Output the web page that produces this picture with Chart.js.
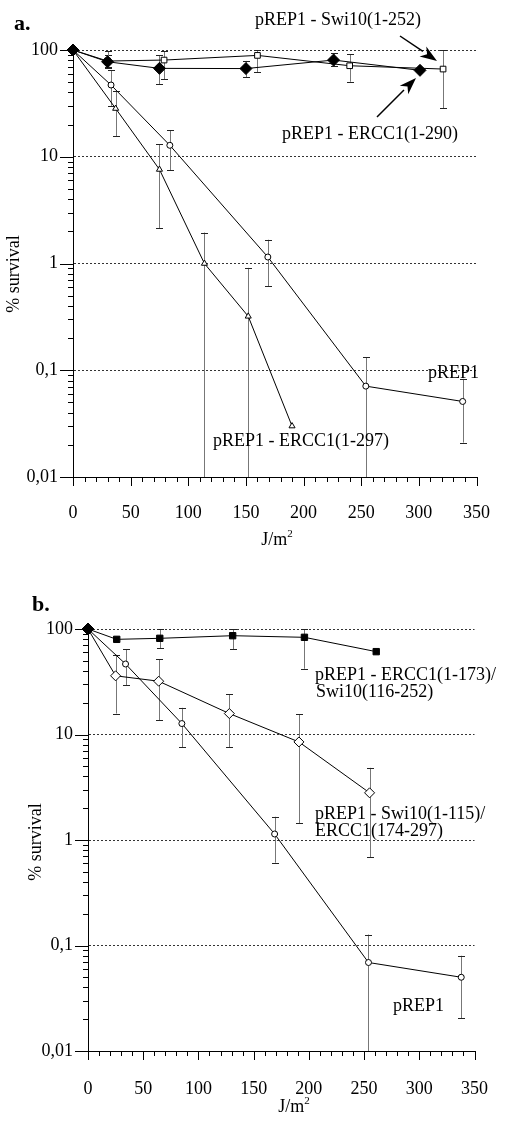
<!DOCTYPE html>
<html>
<head>
<meta charset="utf-8">
<script src="https://cdn.jsdelivr.net/npm/chart.js@4.4.1/dist/chart.umd.min.js"></script>
<style>
  body { margin: 0; background: #fff; }
  #wrapA { position: absolute; left: 0; top: 0; width: 515px; height: 560px; }
  #wrapB { position: absolute; left: 0; top: 560px; width: 515px; height: 562px; }
</style>
</head>
<body>
<div id="wrapA"><canvas id="chartA"></canvas></div>
<div id="wrapB"><canvas id="chartB"></canvas></div>
<script>
const SERIF = "'Liberation Serif', 'Times New Roman', serif";

// axes
const yDecades = [0.01, 0.1, 1, 10, 100];
const yTickLabels = ['0,01', '0,1', '1', '10', '100'];
const xTickLabels = [0, 50, 100, 150, 200, 250, 300, 350];

// panel a - pREP1 (open circles)
const doseA_rep1 = [0, 33, 84, 169, 254, 338];
const survA_rep1 = [100, 47, 12.8, 1.15, 0.071, 0.051];
const hiA_rep1 = [null, 65, 17.8, 1.67, 0.132, 0.083];
const loA_rep1 = [null, 30, 7.5, 0.61, 0.01, 0.021];

// panel a - pREP1 - ERCC1(1-297) (open triangles)
const doseA_e297 = [0, 37, 75, 114, 152, 190];
const survA_e297 = [100, 28.3, 7.6, 1.0, 0.32, 0.030];
const hiA_e297 = [null, 41, 13.1, 1.95, 0.91, null];
const loA_e297 = [null, 15.6, 2.15, 0.01, 0.01, null];

// panel a - pREP1 - ERCC1(1-290) (filled diamonds)
const doseA_e290 = [0, 30, 75, 150, 226, 301];
const survA_e290 = [100, 77.6, 67.3, 67, 80.5, 64.5];
const hiA_e290 = [null, 90, 89.7, 79, 93, null];
const loA_e290 = [null, 68, 48, 55.4, 70.8, null];

// panel a - pREP1 - Swi10(1-252) (open squares)
const doseA_s252 = [0, 30, 79, 160, 240, 321];
const survA_s252 = [100, 78.8, 80.5, 89, 71.2, 66.3];
const hiA_s252 = [null, 98, 97, 100, 91.7, 102];
const loA_s252 = [null, 69.7, 53, 61.7, 50.4, 28.4];

// panel b - pREP1 - ERCC1(1-173)/Swi10(116-252) (filled squares)
const doseB_chim1 = [0, 26, 65, 131, 196, 261];
const survB_chim1 = [100, 79.8, 81.6, 86.4, 83.4, 61];
const hiB_chim1 = [null, null, 100, 100, 100, null];
const loB_chim1 = [null, null, 65.6, 64.5, 42, null];

// panel b - pREP1 - Swi10(1-115)/ERCC1(174-297) (open diamonds)
const doseB_chim2 = [0, 25, 64, 128, 191, 255];
const survB_chim2 = [100, 36, 32, 15.8, 8.5, 2.8];
const hiB_chim2 = [null, 57, 51.5, 24.2, 15.6, 4.83];
const loB_chim2 = [null, 15.8, 13.7, 7.6, 1.44, 0.69];

// panel b - pREP1 (open circles)
const doseB_rep1 = [0, 34, 85, 169, 254, 338];
const survB_rep1 = [100, 46.6, 12.7, 1.14, 0.069, 0.050];
const hiB_rep1 = [null, 64, 17.9, 1.66, 0.127, 0.08];
const loB_rep1 = [null, 29.4, 7.6, 0.61, 0.01, 0.0205];

// tick positions (minor ticks 2..9 in each decade, every 10 on x)
const yTickValues = [];
yDecades.forEach((d, i) => {
  if (i === yDecades.length - 1) { yTickValues.push(d); return; }
  for (let k = 1; k < 10; k++) yTickValues.push(+(d * k).toPrecision(3));
});
const xTickValues = [];
for (let v = 0; v <= 350; v += 10) xTickValues.push(v);

function pts(xs, ys) {
  return xs.map((x, i) => ({ x: x, y: ys[i] }));
}

function series(label, xs, ys, hi, lo, style) {
  return Object.assign({
    label: label,
    data: pts(xs, ys),
    errHi: hi,
    errLo: lo,
    borderColor: '#000',
    borderWidth: 1,
    pointBorderColor: '#000',
    pointBorderWidth: 1,
    tension: 0,
    clip: false
  }, style);
}

// error bars drawn through the chart's scales
const errorBars = {
  id: 'errorBars',
  beforeDatasetsDraw(chart) {
    const ctx = chart.ctx, xs = chart.scales.x, ys = chart.scales.y;
    ctx.save();
    chart.data.datasets.forEach(ds => {
      ds.data.forEach((p, i) => {
        const hi = ds.errHi[i], lo = ds.errLo[i];
        if (hi == null || lo == null) return;
        const px = Math.round(xs.getPixelForValue(p.x)) + 0.5;
        const yh = ys.getPixelForValue(Math.min(hi, 100));
        const yl = ys.getPixelForValue(lo);
        ctx.strokeStyle = '#777';
        ctx.lineWidth = 1;
        ctx.beginPath();
        ctx.moveTo(px, yh); ctx.lineTo(px, yl);
        ctx.stroke();
        ctx.strokeStyle = '#222';
        ctx.beginPath();
        ctx.moveTo(px - 3.5, Math.round(yh) + 0.5); ctx.lineTo(px + 3.5, Math.round(yh) + 0.5);
        if (lo > 0.01) {
          ctx.moveTo(px - 3.5, Math.round(yl) + 0.5); ctx.lineTo(px + 3.5, Math.round(yl) + 0.5);
        }
        ctx.stroke();
      });
    });
    ctx.restore();
  }
};

// tick marks, labels, arrows
const decorations = {
  id: 'decorations',
  afterDraw(chart, args, opts) {
    const ctx = chart.ctx, xs = chart.scales.x, ys = chart.scales.y;
    const area = chart.chartArea;
    ctx.save();
    ctx.strokeStyle = '#000';
    ctx.lineWidth = 1;
    ctx.beginPath();
    ys.ticks.forEach(t => {
      const p = Math.round(ys.getPixelForValue(t.value)) + 0.5;
      const len = yDecades.indexOf(t.value) >= 0 ? 13 : 5;
      ctx.moveTo(area.left - len, p); ctx.lineTo(area.left, p);
    });
    xs.ticks.forEach(t => {
      const p = Math.round(xs.getPixelForValue(t.value)) + 0.5;
      const len = xTickLabels.indexOf(t.value) >= 0 ? 9 : 5;
      ctx.moveTo(p, area.bottom); ctx.lineTo(p, area.bottom + len);
    });
    ctx.stroke();

    ctx.fillStyle = '#000';
    // arrows
    (opts.arrows || []).forEach(a => {
      const ang = Math.atan2(a.y2 - a.y1, a.x2 - a.x1);
      const hl = 17, hw = 6;
      const bx = a.x2 - hl * Math.cos(ang), by = a.y2 - hl * Math.sin(ang);
      ctx.lineWidth = 1.5;
      ctx.beginPath();
      ctx.moveTo(a.x1, a.y1); ctx.lineTo(bx, by);
      ctx.stroke();
      ctx.beginPath();
      ctx.moveTo(a.x2, a.y2);
      ctx.lineTo(bx + hw * Math.sin(ang), by - hw * Math.cos(ang));
      ctx.lineTo(a.x2 - (hl - 5) * Math.cos(ang), a.y2 - (hl - 5) * Math.sin(ang));
      ctx.lineTo(bx - hw * Math.sin(ang), by + hw * Math.cos(ang));
      ctx.closePath();
      ctx.fill();
    });

    // texts
    ctx.textBaseline = 'alphabetic';
    (opts.texts || []).forEach(t => {
      ctx.font = (t.bold ? 'bold ' : '') + (t.size || 18) + 'px ' + SERIF;
      ctx.textAlign = t.align || 'left';
      ctx.fillText(t.text, t.x, t.y);
    });

    // y title
    ctx.save();
    ctx.translate(opts.yTitle.x, opts.yTitle.y);
    ctx.rotate(-Math.PI / 2);
    ctx.font = '18px ' + SERIF;
    ctx.textAlign = 'center';
    ctx.textBaseline = 'middle';
    ctx.fillText('% survival', 0, 0);
    ctx.restore();

    // x title J/m2
    ctx.font = '18px ' + SERIF;
    const w1 = ctx.measureText('J/m').width;
    ctx.font = '11px ' + SERIF;
    const w2 = ctx.measureText('2').width;
    const sx = opts.xTitle.x - (w1 + w2) / 2;
    ctx.textAlign = 'left';
    ctx.font = '18px ' + SERIF;
    ctx.fillText('J/m', sx, opts.xTitle.y);
    ctx.font = '11px ' + SERIF;
    ctx.fillText('2', sx + w1, opts.xTitle.y - 8);
    ctx.restore();
  }
};

function makeScales(yWidth, xHeight, xPad) {
  return {
    x: {
      type: 'linear', min: 0, max: 350,
      afterBuildTicks: s => { s.ticks = xTickValues.map(v => ({ value: v })); },
      ticks: {
        autoSkip: false, maxRotation: 0, padding: xPad, color: '#000',
        font: { family: SERIF, size: 18 },
        callback: v => xTickLabels.indexOf(v) >= 0 ? String(v) : ''
      },
      grid: { display: true, color: 'rgba(0,0,0,0)', drawTicks: false },
      border: { display: true, color: '#000', width: 1 },
      afterFit: s => { s.height = xHeight; }
    },
    y: {
      type: 'logarithmic', min: 0.01, max: 100,
      afterBuildTicks: s => { s.ticks = yTickValues.map(v => ({ value: v })); },
      ticks: {
        autoSkip: false, padding: 15, color: '#000',
        font: { family: SERIF, size: 18 },
        callback: v => { const i = yDecades.indexOf(v); return i < 0 ? '' : yTickLabels[i]; }
      },
      grid: {
        drawTicks: false, lineWidth: 1,
        color: c => (c.tick && yDecades.indexOf(c.tick.value) > 0) ? '#333' : 'rgba(0,0,0,0)'
      },
      border: { display: true, color: '#000', width: 1, dash: [2, 2] },
      afterFit: s => { s.width = yWidth; }
    }
  };
}

const openCircle = { pointStyle: 'circle', pointRadius: 3, pointBackgroundColor: '#fff' };

new Chart(document.getElementById('chartA'), {
  type: 'line',
  data: {
    datasets: [
      series('pREP1 - ERCC1(1-290)', doseA_e290, survA_e290, hiA_e290, loA_e290,
        { pointStyle: 'rectRot', pointRadius: 6, pointBackgroundColor: '#000' }),
      series('pREP1 - Swi10(1-252)', doseA_s252, survA_s252, hiA_s252, loA_s252,
        { pointStyle: 'rect', pointRadius: 4, pointBackgroundColor: '#fff' }),
      series('pREP1', doseA_rep1, survA_rep1, hiA_rep1, loA_rep1, openCircle),
      series('pREP1 - ERCC1(1-297)', doseA_e297, survA_e297, hiA_e297, loA_e297,
        { pointStyle: 'triangle', pointRadius: 3.5, pointBackgroundColor: '#fff' })
    ]
  },
  options: {
    responsive: true, maintainAspectRatio: false, animation: false,
    layout: { padding: { left: 0, top: 50, right: 35, bottom: 0 } },
    scales: makeScales(73, 83, 25),
    plugins: {
      legend: { display: false },
      tooltip: { enabled: false },
      decorations: {
        texts: [
          { text: 'a.', x: 14, y: 30, bold: true, size: 22 },
          { text: 'pREP1 - Swi10(1-252)', x: 255, y: 25 },
          { text: 'pREP1 - ERCC1(1-290)', x: 282, y: 139 },
          { text: 'pREP1', x: 428, y: 378 },
          { text: 'pREP1 - ERCC1(1-297)', x: 213, y: 446 }
        ],
        arrows: [
          { x1: 400, y1: 36, x2: 437, y2: 61 },
          { x1: 377, y1: 117, x2: 416, y2: 78 }
        ],
        yTitle: { x: 14, y: 274 },
        xTitle: { x: 277, y: 545 }
      }
    }
  },
  plugins: [errorBars, decorations]
});

new Chart(document.getElementById('chartB'), {
  type: 'line',
  data: {
    datasets: [
      series('pREP1 - ERCC1(1-173)/Swi10(116-252)', doseB_chim1, survB_chim1, hiB_chim1, loB_chim1,
        { pointStyle: ['rectRot', 'rect', 'rect', 'rect', 'rect', 'rect'],
          pointRadius: [6, 4.5, 4.5, 4.5, 4.5, 4.5], pointBackgroundColor: '#000' }),
      series('pREP1 - Swi10(1-115)/ERCC1(174-297)', doseB_chim2, survB_chim2, hiB_chim2, loB_chim2,
        { pointStyle: 'rectRot', pointRadius: 5, pointBackgroundColor: '#fff' }),
      series('pREP1', doseB_rep1, survB_rep1, hiB_rep1, loB_rep1, openCircle)
    ]
  },
  options: {
    responsive: true, maintainAspectRatio: false, animation: false,
    layout: { padding: { left: 0, top: 69, right: 16, bottom: 0 } },
    scales: makeScales(88, 71, 27),
    plugins: {
      legend: { display: false },
      tooltip: { enabled: false },
      decorations: {
        texts: [
          { text: 'b.', x: 32, y: 51, bold: true, size: 22 },
          { text: 'pREP1 - ERCC1(1-173)/', x: 315, y: 120 },
          { text: 'Swi10(116-252)', x: 316, y: 137 },
          { text: 'pREP1 - Swi10(1-115)/', x: 315, y: 259 },
          { text: 'ERCC1(174-297)', x: 315, y: 276 },
          { text: 'pREP1', x: 393, y: 451 }
        ],
        arrows: [],
        yTitle: { x: 36, y: 282 },
        xTitle: { x: 294, y: 552 }
      }
    }
  },
  plugins: [errorBars, decorations]
});
</script>
</body>
</html>
